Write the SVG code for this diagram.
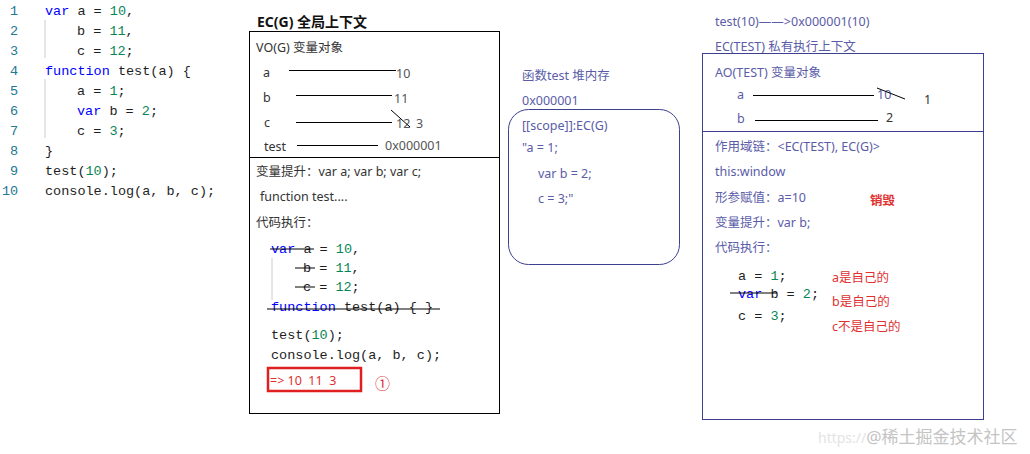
<svg xmlns="http://www.w3.org/2000/svg" width="1030" height="454" viewBox="0 0 1030 454">
<style>
.code{font-family:"Liberation Mono",monospace;font-size:13.5px;fill:#1e1e1e}
.kw{fill:#0000ff}
.num{fill:#098658}
.ln{font-family:"Liberation Mono",monospace;font-size:13.5px;fill:#237893}
.ui{font-family:"Noto Sans","Noto Sans CJK SC",sans-serif;font-size:12.5px;fill:#333}
.val{fill:#555}
.bl{font-family:"Noto Sans","Noto Sans CJK SC",sans-serif;font-size:12.5px;fill:#5a5ca8}
.red{font-family:"Noto Sans","Noto Sans CJK SC",sans-serif;font-size:12.5px;fill:#e03131}
.title{font-family:"Noto Sans","Noto Sans CJK SC",sans-serif;font-size:14px;font-weight:bold;fill:#111}
.ln1{stroke:#000;stroke-width:1}
.guide{stroke:#ccc;stroke-width:1}
</style>
<rect width="1030" height="454" fill="#fff"/>

<g id="source-code">
<text class="ln" x="10" y="15">1</text>
<text class="ln" x="10" y="35">2</text>
<text class="ln" x="10" y="55">3</text>
<text class="ln" x="10" y="75">4</text>
<text class="ln" x="10" y="95">5</text>
<text class="ln" x="10" y="115">6</text>
<text class="ln" x="10" y="135">7</text>
<text class="ln" x="10" y="155">8</text>
<text class="ln" x="10" y="175">9</text>
<text class="ln" x="2" y="195">10</text>
<line class="guide" x1="45" y1="20" x2="45" y2="58"/>
<line class="guide" x1="45" y1="79" x2="45" y2="138"/>
<text class="code" x="45" y="15"><tspan class="kw">var</tspan> a = <tspan class="num">10</tspan>,</text>
<text class="code" x="77" y="35">b = <tspan class="num">11</tspan>,</text>
<text class="code" x="77" y="55">c = <tspan class="num">12</tspan>;</text>
<text class="code" x="45" y="75"><tspan class="kw">function</tspan> test(a) {</text>
<text class="code" x="77" y="95">a = <tspan class="num">1</tspan>;</text>
<text class="code" x="77" y="115"><tspan class="kw">var</tspan> b = <tspan class="num">2</tspan>;</text>
<text class="code" x="77" y="135">c = <tspan class="num">3</tspan>;</text>
<text class="code" x="45" y="155">}</text>
<text class="code" x="45" y="175">test(<tspan class="num">10</tspan>);</text>
<text class="code" x="45" y="195">console.log(a, b, c);</text>
</g>

<g id="ec-global">
<text class="title" x="257" y="27">EC(G) 全局上下文</text>
<rect x="249.5" y="31.5" width="250" height="382" fill="none" stroke="#000" stroke-width="1"/>
<line x1="249.5" y1="157.5" x2="499.5" y2="157.5" stroke="#000"/>
<text class="ui" x="256" y="52">VO(G) 变量对象</text>
<text class="ui" x="263" y="77">a</text>
<line class="ln1" x1="289" y1="70.5" x2="396" y2="70.5"/>
<text class="ui val" x="396" y="78">10</text>
<text class="ui" x="263" y="102">b</text>
<line class="ln1" x1="296" y1="95.5" x2="392" y2="95.5"/>
<text class="ui val" x="394" y="103">11</text>
<text class="ui" x="264" y="127">c</text>
<line class="ln1" x1="296" y1="122.5" x2="392" y2="122.5"/>
<text class="ui val" x="396" y="128">12</text>
<line class="ln1" x1="391" y1="110" x2="410" y2="127"/>
<text class="ui val" x="416" y="128">3</text>
<text class="ui" x="264" y="151">test</text>
<line class="ln1" x1="297" y1="145.5" x2="378" y2="145.5"/>
<text class="ui val" x="385" y="150">0x000001</text>

<text class="ui" x="256" y="176">变量提升：var a; var b; var c;</text>
<text class="ui" x="260" y="201">function test....</text>
<text class="ui" x="256" y="227">代码执行：</text>

<line class="guide" x1="272" y1="258" x2="272" y2="300"/>
<text class="code" x="271" y="253"><tspan class="kw">var</tspan> a = <tspan class="num">10</tspan>,</text>
<line class="ln1" x1="270" y1="249" x2="314" y2="249"/>
<text class="code" x="303" y="272">b = <tspan class="num">11</tspan>,</text>
<line class="ln1" x1="295" y1="268" x2="315" y2="268"/>
<text class="code" x="303" y="291">c = <tspan class="num">12</tspan>;</text>
<line class="ln1" x1="295" y1="287" x2="315" y2="287"/>
<text class="code" x="271" y="311"><tspan class="kw">function</tspan> test(a) { }</text>
<line class="ln1" x1="267" y1="309" x2="440" y2="309"/>
<text class="code" x="271" y="339">test(<tspan class="num">10</tspan>);</text>
<text class="code" x="271" y="359">console.log(a, b, c);</text>
<rect x="268" y="368" width="93" height="23" fill="none" stroke="#e02020" stroke-width="2.5"/>
<text class="red" x="270" y="385" font-size="15" xml:space="preserve">=&gt; 10  11  3</text>
<text x="375" y="389" font-family="Noto Sans CJK SC,sans-serif" font-size="15" fill="#e03131">①</text>
</g>

<g id="heap-test">
<text class="bl" x="522" y="80">函数test 堆内存</text>
<text class="bl" x="522" y="105">0x000001</text>
<rect x="508.5" y="109.5" width="171" height="155" rx="20" fill="none" stroke="#3d3f8f" stroke-width="1"/>
<text class="bl" x="522" y="130">[[scope]]:EC(G)</text>
<text class="bl" x="522" y="152">"a = 1;</text>
<text class="bl" x="538" y="178">var b = 2;</text>
<text class="bl" x="538" y="203">c = 3;"</text>
</g>

<g id="ec-test">
<text class="bl" x="715" y="26">test(10)——&gt;0x000001(10)</text>
<text class="bl" x="715" y="51">EC(TEST) 私有执行上下文</text>
<rect x="702.5" y="53.5" width="281" height="366" fill="none" stroke="#3d3f8f" stroke-width="1"/>
<line x1="702.5" y1="131.5" x2="983.5" y2="131.5" stroke="#3d3f8f"/>
<text class="bl" x="715" y="77">AO(TEST) 变量对象</text>
<text class="bl" x="737" y="99">a</text>
<line class="ln1" x1="753" y1="95.5" x2="874" y2="95.5"/>
<text class="bl" x="877" y="99">10</text>
<line class="ln1" x1="877" y1="88" x2="905" y2="99"/>
<text class="ui" x="924" y="104">1</text>
<text class="bl" x="737" y="123">b</text>
<line class="ln1" x1="755" y1="120.5" x2="878" y2="120.5"/>
<text class="ui" x="886" y="122">2</text>
<text class="bl" x="715" y="151">作用域链：&lt;EC(TEST), EC(G)&gt;</text>
<text class="bl" x="715" y="176">this:window</text>
<text class="bl" x="715" y="202">形参赋值：a=10</text>
<text class="red" x="870" y="205" font-weight="bold">销毁</text>
<text class="bl" x="715" y="227">变量提升：var b;</text>
<text class="bl" x="715" y="252">代码执行：</text>
<text class="code" x="738" y="280">a = <tspan class="num">1</tspan>;</text>
<text class="code" x="738" y="298"><tspan class="kw">var</tspan> b = <tspan class="num">2</tspan>;</text>
<line class="ln1" x1="730" y1="293" x2="777" y2="293"/>
<text class="code" x="738" y="320">c = <tspan class="num">3</tspan>;</text>
<text class="red" x="832" y="282">a是自己的</text>
<text class="red" x="832" y="306">b是自己的</text>
<text class="red" x="832" y="331">c不是自己的</text>
</g>

<text x="818" y="443" font-family="Noto Sans,Noto Sans CJK SC,sans-serif" font-size="17" fill="#c4c4c4"><tspan font-size="14" fill="#e4e4e4">https://</tspan>@稀土掘金技术社区</text>
</svg>
